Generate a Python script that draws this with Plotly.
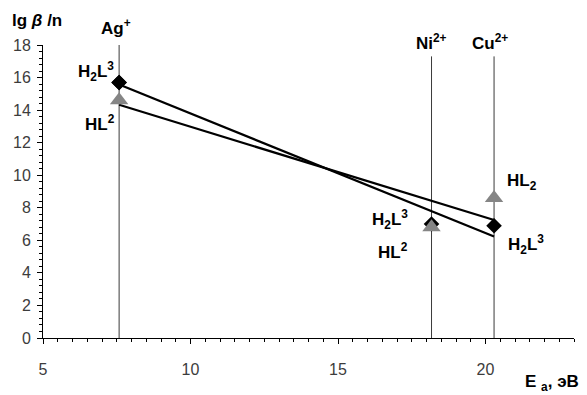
import numpy as np
import plotly.graph_objects as go

# Ions and their ionization energies E_a (eV)
ions = ["Ag<sup>+</sup>", "Ni<sup>2+</sup>", "Cu<sup>2+</sup>"]
energy = [7.58, 18.17, 20.29]

# lg(beta)/n for the two complex types
h2l3 = [15.7, 7.0, 6.9]   # H2L3 complexes (diamonds)
hl2 = [14.6, 6.8, 8.6]    # HL2 complexes (triangles)

# Point labels: (ion index, series, text, xshift, yshift)
point_labels = [
    (0, "h2l3", "H<sub>2</sub>L<sup>3</sup>", -23, 11),
    (0, "hl2", "HL<sup>2</sup>", -19, -23),
    (1, "h2l3", "H<sub>2</sub>L<sup>3</sup>", -42, 5),
    (1, "hl2", "HL<sup>2</sup>", -39, -24),
    (2, "hl2", "HL<sub>2</sub>", 28, 16),
    (2, "h2l3", "H<sub>2</sub>L<sup>3</sup>", 32, -19),
]

FONT = "Liberation Sans, Arial, sans-serif"
LABEL_FONT = dict(family=FONT, size=17, color="black")
series = {"h2l3": h2l3, "hl2": hl2}

W, H = 587, 395
ML, MR, MT, MB = 43, 13, 45, 57
PH = H - MT - MB


def paper_y(py):
    """Pixel row -> paper y coordinate."""
    return (H - MB - py) / PH


def paper_x(px):
    return (px - ML) / (W - ML - MR)


fig = go.Figure()

# Vertical guide lines at each ion's ionization energy
line_tops = [18.0, 17.3, 17.3]
for e, top in zip(energy, line_tops):
    fig.add_trace(go.Scatter(x=[e, e], y=[0, top], mode="lines",
                             line=dict(color="#3a3a3a", width=1),
                             hoverinfo="skip", showlegend=False, cliponaxis=False))

# Linear trend lines for both series
x0, x1 = min(energy), max(energy)
for vals in (h2l3, hl2):
    k, b = np.polyfit(energy, vals, 1)
    fig.add_trace(go.Scatter(x=[x0, x1], y=[k * x0 + b, k * x1 + b], mode="lines",
                             line=dict(color="black", width=2.2),
                             hoverinfo="skip", showlegend=False))

diamond = dict(symbol="diamond", size=12, color="black")
triangle = dict(symbol="triangle-up", size=16, color="#858585")

# Diamonds below triangles except where a diamond sits on top (Ag+)
fig.add_trace(go.Scatter(x=energy, y=h2l3, mode="markers", marker=diamond,
                         showlegend=False))
fig.add_trace(go.Scatter(x=energy, y=hl2, mode="markers", marker=triangle,
                         showlegend=False))
fig.add_trace(go.Scatter(x=energy[:1], y=h2l3[:1], mode="markers", marker=diamond,
                         showlegend=False))

annotations = []
for i, key, text, dx, dy in point_labels:
    annotations.append(dict(x=energy[i], y=series[key][i], xref="x", yref="y",
                            text=f"<b>{text}</b>", showarrow=False,
                            xanchor="center", yanchor="middle",
                            xshift=dx, yshift=dy, font=LABEL_FONT))

# Ion names above the guide lines
ion_label_rows = [27, 42, 42]
ion_shift = [-3, 0, -4]
for e, name, row, dx in zip(energy, ions, ion_label_rows, ion_shift):
    annotations.append(dict(x=e, y=paper_y(row), xref="x", yref="paper",
                            text=f"<b>{name}</b>", showarrow=False, xshift=dx,
                            xanchor="center", yanchor="middle", font=LABEL_FONT))

# Axis titles
annotations.append(dict(x=paper_x(37), y=paper_y(20), xref="paper", yref="paper",
                        text="<b>lg <i>β</i> /n</b>", showarrow=False,
                        xanchor="center", yanchor="middle",
                        font=dict(family=FONT, size=17, color="black")))
annotations.append(dict(x=paper_x(552), y=paper_y(383), xref="paper", yref="paper",
                        text="<b>E <sub>a</sub>, эВ</b>", showarrow=False,
                        xanchor="center", yanchor="middle",
                        font=dict(family=FONT, size=17, color="black")))

axis_common = dict(showgrid=False, zeroline=False, showline=True,
                   linecolor="black", linewidth=1, ticks="outside",
                   ticklen=5, tickcolor="black", tickwidth=1,
                   tickfont=dict(family=FONT, size=16, color="#3c3c3c"))

fig.update_layout(
    width=W, height=H,
    margin=dict(l=ML, r=MR, t=MT, b=MB),
    plot_bgcolor="white", paper_bgcolor="white",
    showlegend=False,
    annotations=annotations,
    xaxis=dict(range=[5, 23], tickvals=[5, 10, 15, 20], ticklabelstandoff=12,
               minor=dict(dtick=0.5, ticks="outside", ticklen=3, tickcolor="black"),
               **axis_common),
    yaxis=dict(range=[0, 18], dtick=2, ticklabelstandoff=3,
               minor=dict(dtick=0.4, ticks="outside", ticklen=3, tickcolor="black"),
               **axis_common),
)

fig.write_html("out.html")
